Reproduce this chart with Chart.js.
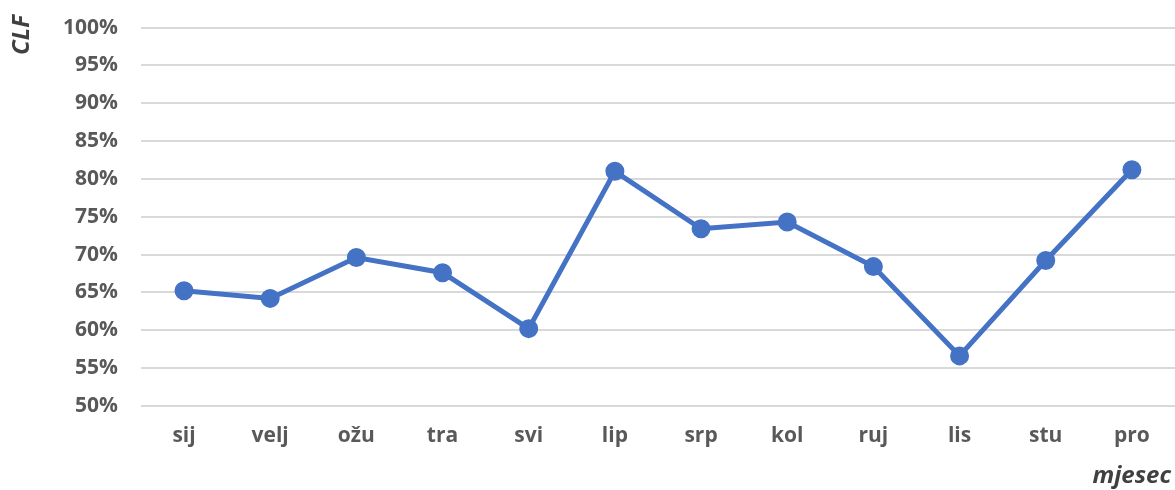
<!DOCTYPE html>
<html>
<head>
<meta charset="utf-8">
<script src="https://cdn.jsdelivr.net/npm/chart.js@4.4.0/dist/chart.umd.min.js"></script>
<style>
  body { margin: 0; background: #fff; overflow: hidden; }
  /* slightly oversized so the plot area reaches the page edges like the original */
  #wrap { width: 1187px; height: 498px; position: relative; margin-top: -8px; }
</style>
</head>
<body>
<div id="wrap"><canvas id="clfChart"></canvas></div>
<script>
const months = ['sij', 'velj', 'ožu', 'tra', 'svi', 'lip', 'srp', 'kol', 'ruj', 'lis', 'stu', 'pro'];
const clfValues = [65.2, 64.2, 69.6, 67.6, 60.2, 81.0, 73.4, 74.3, 68.4, 56.6, 69.2, 81.2];
const yMin = 50;
const yMax = 100;
const yStep = 5;

const fontFamily = '"Open Sans", "Liberation Sans", sans-serif';
const labelFont = { family: fontFamily, size: 21, weight: 'bold' };
const textGrey = '#595959';

// axis titles sit outside the plot, top-left and bottom-right like the original
const axisTitles = {
  id: 'axisTitles',
  afterDraw(chart) {
    const ctx = chart.ctx;
    ctx.save();
    ctx.fillStyle = '#404040';
    ctx.font = 'italic bold 24px ' + fontFamily;
    ctx.textBaseline = 'middle';
    ctx.textAlign = 'center';
    ctx.translate(22, 43);
    ctx.rotate(-Math.PI / 2);
    ctx.fillText('CLF', 0, 0);
    ctx.restore();

    ctx.save();
    ctx.fillStyle = '#404040';
    ctx.font = 'italic bold 24px ' + fontFamily;
    ctx.textBaseline = 'alphabetic';
    ctx.textAlign = 'right';
    ctx.fillText('mjesec', 1171, 491);
    ctx.restore();
  }
};

new Chart(document.getElementById('clfChart'), {
  type: 'line',
  data: {
    labels: months,
    datasets: [{
      label: 'CLF',
      data: clfValues,
      borderColor: '#4472C4',
      backgroundColor: '#4472C4',
      borderWidth: 5,
      pointRadius: 7,
      pointHoverRadius: 7,
      fill: false,
      tension: 0
    }]
  },
  options: {
    responsive: true,
    maintainAspectRatio: false,
    animation: false,
    layout: { padding: { top: 0, right: 0, left: 40, bottom: 23 } },
    plugins: {
      legend: { display: false },
      tooltip: { enabled: false }
    },
    scales: {
      x: {
        offset: true,
        grid: { display: false, drawTicks: false },
        border: { display: false },
        ticks: { color: textGrey, font: labelFont, padding: 18 }
      },
      y: {
        min: yMin,
        max: yMax,
        grid: { color: '#d9d9d9', lineWidth: 2, drawTicks: false },
        border: { display: false },
        ticks: {
          stepSize: yStep,
          color: textGrey,
          font: labelFont,
          padding: 23,
          callback: v => v + '%'
        }
      }
    }
  },
  plugins: [axisTitles]
});
</script>
</body>
</html>
